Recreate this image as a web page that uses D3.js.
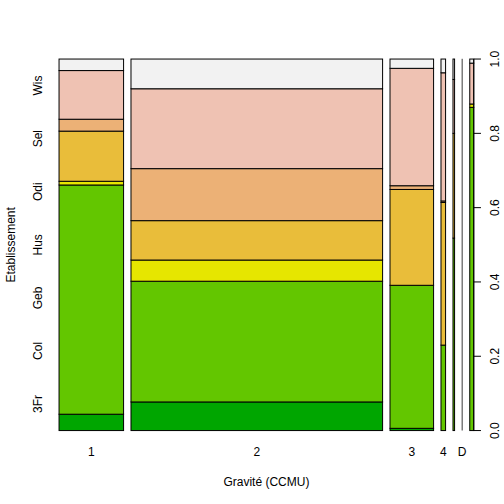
<!DOCTYPE html>
<html><head><meta charset="utf-8">
<script src="https://cdn.jsdelivr.net/npm/d3@7"></script>
<style>
body{margin:0;background:#fff}
svg{display:block}
text{font-family:"Liberation Sans",Arial,Helvetica,sans-serif;font-size:12px;fill:#000}
</style>
</head><body>
<svg id="c" width="504" height="504"></svg>
<script>
// Categories
const gravite = ["1","2","3","4","5","D","P"];
const etablissement = ["3Fr","Col","Geb","Hus","Odi","Sel","Wis"];
// Column sizes (relative counts per gravity level)
const effectifs = [174.3, 679.5, 117.7, 12.4, 4.3, 1.0, 10.8];
// Conditional proportions of each establishment within each gravity level (3Fr..Wis)
const prop1 = [0.044, 0.617, 0.010, 0.135, 0.032, 0.131, 0.031];
const prop2 = [0.077, 0.325, 0.057, 0.106, 0.140, 0.215, 0.080];
const prop3 = [0.006, 0.385, 0.000, 0.258, 0.010, 0.316, 0.025];
const prop4 = [0.000, 0.230, 0.000, 0.384, 0.004, 0.345, 0.037];
const prop5 = [0.000, 0.518, 0.000, 0.282, 0.000, 0.145, 0.055];
const propD = [0.000, 0.000, 0.000, 0.000, 0.000, 0.000, 1.000];
const propP = [0.000, 0.870, 0.009, 0.000, 0.000, 0.110, 0.011];
const proportions = [prop1, prop2, prop3, prop4, prop5, propD, propP];
const yTickValues = [0, 0.2, 0.4, 0.6, 0.8, 1.0];
const yTickLabels = ["0.0","0.2","0.4","0.6","0.8","1.0"];
const colors = ["#00A600","#63C600","#E6E600","#E9BD3A","#ECB176","#EFC2B3","#F2F2F2"];

const svg = d3.select("#c");
const L = 59.04, R = 473.76, T = 59.04, B = 430.56;
const off = 0.02;
const nx = gravite.length;
const total = d3.sum(effectifs);
const x = d3.scaleLinear().domain([0, 1 + off*(nx-1)]).range([L, R]);
const y = d3.scaleLinear().domain([0, 1]).range([B, T]);

// build rectangles
const rects = [];
const centers = [];
let xs = 0;
effectifs.forEach((n, i) => {
  const w = n/total;
  const x0 = xs + i*off, x1 = x0 + w;
  centers.push((x0+x1)/2);
  let cum = 0;
  const p = proportions[i];
  const s = d3.sum(p);
  p.forEach((v, j) => {
    const y0 = cum, y1 = cum + v/s;
    cum = y1;
    rects.push({x0, x1, y0, y1, j});
  });
  xs += w;
});

svg.append("g").selectAll("rect").data(rects).join("rect")
  .attr("x", d => x(d.x0))
  .attr("width", d => Math.max(0, x(d.x1) - x(d.x0)))
  .attr("y", d => y(d.y1))
  .attr("height", d => Math.max(0, y(d.y0) - y(d.y1)))
  .attr("fill", d => colors[d.j])
  .attr("stroke", "#000")
  .attr("stroke-width", d => (x(d.x1) - x(d.x0)) < 1 ? 0.5 : 1);

// right axis
const ax = svg.append("g");
ax.append("line").attr("x1", R).attr("x2", R).attr("y1", y(0)).attr("y2", y(1))
  .attr("stroke", "#000");
yTickValues.forEach((v, i) => {
  ax.append("line").attr("x1", R).attr("x2", R + 7.2).attr("y1", y(v)).attr("y2", y(v))
    .attr("stroke", "#000");
  ax.append("text")
    .attr("transform", `translate(${R + 25.6},${y(v)}) rotate(-90)`)
    .attr("text-anchor", "middle")
    .text(yTickLabels[i]);
});

// left labels at equal spacing
etablissement.forEach((lab, j) => {
  svg.append("text")
    .attr("transform", `translate(41.7,${y((j + 0.5)/etablissement.length)}) rotate(-90)`)
    .attr("text-anchor", "middle")
    .text(lab);
});

// bottom labels with overlap skipping
let lastRight = -Infinity;
const gap = 8;
gravite.forEach((lab, i) => {
  const t = svg.append("text")
    .attr("x", x(centers[i])).attr("y", 456)
    .attr("text-anchor", "middle")
    .text(lab);
  const w = t.node().getComputedTextLength();
  const left = x(centers[i]) - w/2;
  if (left < lastRight + gap) { t.remove(); }
  else { lastRight = x(centers[i]) + w/2; }
});

// axis titles
svg.append("text").attr("x", (L+R)/2).attr("y", 485.5).attr("text-anchor", "middle")
  .text("Gravité (CCMU)");
svg.append("text")
  .attr("transform", `translate(15,${(T+B)/2}) rotate(-90)`)
  .attr("text-anchor", "middle")
  .text("Etablissement");
</script>
</body></html>
